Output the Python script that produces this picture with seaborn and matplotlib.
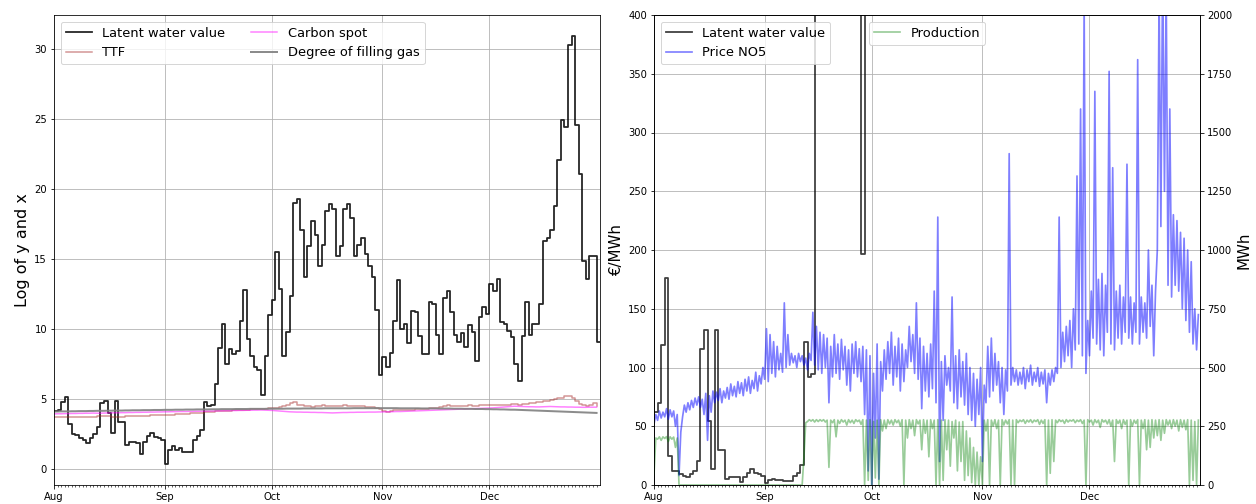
import numpy as np
import pandas as pd
import matplotlib
matplotlib.use("Agg")
import matplotlib.pyplot as plt
import matplotlib.dates as mdates
import seaborn as sns

START = "2021-08-01"
END = "2021-12-31 23:00"

# Latent water value, log scale, one value per day (Aug 1 - Dec 31)
latent_log = [
    4.13, 4.25, 4.78, 5.17, 3.2, 2.5, 2.45, 2.2, 2.07, 1.86,
    2.2, 2.5, 3.0, 4.75, 4.88, 4.0, 2.6, 4.88, 3.4, 3.4,
    1.7, 1.95, 1.95, 1.9, 1.07, 1.95, 2.36, 2.6, 2.3, 2.2,
    2.07,
    0.4, 1.4, 1.64, 1.36, 1.5, 1.24, 1.24, 1.24, 2.07, 2.36,
    2.83, 4.8, 4.52, 4.55, 6.05, 8.67, 10.4, 7.48, 8.57, 8.26,
    8.45, 10.6, 12.8, 9.3, 8.1, 7.3, 7.1, 5.28, 8.1, 11.0,
    12.1, 15.5, 12.9, 8.1, 9.8, 12.4, 19.0, 19.3, 17.1, 13.7,
    15.9, 17.7, 16.7, 14.5, 16.0, 18.4, 18.9, 18.6, 15.2, 15.9,
    18.6, 18.9, 17.9, 15.2, 16.0, 16.5, 15.4, 14.5, 13.7, 11.4,
    6.7,
    8.0, 7.3, 8.3, 10.6, 13.5, 10.0, 10.4, 9.0, 11.3, 11.2,
    9.5, 8.2, 8.2, 11.95, 11.8, 9.6, 8.2, 12.2, 12.7, 11.2,
    9.6, 9.1, 9.7, 8.7, 10.3, 9.8, 7.7, 10.9, 11.55, 11.1,
    13.2, 12.7, 13.6, 10.5, 10.35, 9.9, 9.45, 7.5, 6.3, 9.5,
    11.95, 9.6, 10.35, 10.4, 11.8, 16.3, 16.5, 17.1, 18.8, 22.1,
    24.9, 24.45, 30.3, 30.9, 24.6, 21.1, 14.9, 13.6, 15.2, 15.2,
    9.1,
]

# TTF gas price, log, daily
ttf_log = [
    3.70, 3.71, 3.72, 3.72, 3.73, 3.73, 3.74, 3.74, 3.75, 3.75,
    3.76, 3.76, 3.77, 3.78, 3.78, 3.77, 3.76, 3.75, 3.75, 3.76,
    3.77, 3.78, 3.79, 3.80, 3.81, 3.82, 3.83, 3.84, 3.85, 3.86,
    3.87, 3.88, 3.89, 3.90, 3.92, 3.94, 3.96, 3.97, 3.99, 4.01,
    4.03, 4.05, 4.07, 4.09, 4.12, 4.15, 4.18, 4.17, 4.16, 4.18,
    4.20, 4.22, 4.21, 4.23, 4.25, 4.27, 4.29, 4.31, 4.33, 4.32,
    4.34, 4.36, 4.40, 4.45, 4.50, 4.55, 4.70, 4.80, 4.62, 4.55,
    4.50, 4.48, 4.47, 4.50, 4.52, 4.55, 4.52, 4.50, 4.48, 4.50,
    4.53, 4.55, 4.52, 4.50, 4.49, 4.50, 4.48, 4.47, 4.46, 4.45,
    4.40, 4.28, 4.15, 4.12, 4.18, 4.20, 4.22, 4.25, 4.24, 4.22,
    4.25, 4.27, 4.30, 4.32, 4.33, 4.35, 4.36, 4.38, 4.42, 4.50,
    4.55, 4.52, 4.50, 4.48, 4.50, 4.52, 4.55, 4.54, 4.53, 4.55,
    4.56, 4.55, 4.56, 4.58, 4.57, 4.59, 4.60, 4.62, 4.63, 4.64,
    4.62, 4.65, 4.68, 4.72, 4.75, 4.78, 4.80, 4.85, 4.88, 4.92,
    4.98, 5.05, 5.12, 5.20, 5.22, 5.08, 4.90, 4.65, 4.55, 4.52,
    4.58, 4.75, 4.50,
]

# Carbon spot price, log, daily
carbon_log = [
    3.95, 3.96, 3.96, 3.97, 3.97, 3.98, 3.98, 3.99, 3.99, 4.00,
    4.00, 4.01, 4.00, 4.00, 4.01, 4.02, 4.02, 4.03, 4.03, 4.04,
    4.04, 4.05, 4.05, 4.06, 4.06, 4.07, 4.07, 4.08, 4.08, 4.09,
    4.09, 4.10, 4.10, 4.11, 4.11, 4.12, 4.12, 4.12, 4.13, 4.13,
    4.14, 4.14, 4.15, 4.15, 4.16, 4.16, 4.17, 4.17, 4.18, 4.18,
    4.19, 4.19, 4.20, 4.20, 4.21, 4.21, 4.22, 4.22, 4.23, 4.22,
    4.21, 4.20, 4.18, 4.16, 4.14, 4.12, 4.10, 4.09, 4.08, 4.08,
    4.07, 4.07, 4.06, 4.06, 4.05, 4.05, 4.04, 4.03, 4.02, 4.03,
    4.04, 4.05, 4.05, 4.06, 4.06, 4.07, 4.07, 4.07, 4.08, 4.08,
    4.08, 4.09, 4.09, 4.10, 4.10, 4.11, 4.12, 4.12, 4.13, 4.14,
    4.15, 4.16, 4.17, 4.18, 4.19, 4.20, 4.21, 4.22, 4.23, 4.24,
    4.25, 4.26, 4.27, 4.28, 4.29, 4.30, 4.31, 4.32, 4.33, 4.34,
    4.35, 4.36, 4.37, 4.38, 4.40, 4.42, 4.44, 4.46, 4.48, 4.50,
    4.49, 4.48, 4.47, 4.46, 4.46, 4.45, 4.45, 4.46, 4.47, 4.48,
    4.47, 4.46, 4.45, 4.45, 4.44, 4.44, 4.43, 4.43, 4.42, 4.42,
    4.43, 4.43, 4.43,
]

# Degree of filling of gas storage, log, daily
gas_fill_log = [
    4.12, 4.12, 4.13, 4.13, 4.13, 4.14, 4.14, 4.15, 4.15, 4.15,
    4.16, 4.16, 4.17, 4.17, 4.17, 4.18, 4.18, 4.19, 4.19, 4.19,
    4.20, 4.20, 4.21, 4.21, 4.21, 4.22, 4.22, 4.22, 4.23, 4.23,
    4.23, 4.24, 4.24, 4.24, 4.25, 4.25, 4.25, 4.26, 4.26, 4.26,
    4.27, 4.27, 4.27, 4.27, 4.28, 4.28, 4.28, 4.29, 4.29, 4.29,
    4.29, 4.30, 4.30, 4.30, 4.30, 4.31, 4.31, 4.31, 4.31, 4.31,
    4.32, 4.32, 4.32, 4.32, 4.32, 4.33, 4.33, 4.33, 4.33, 4.33,
    4.34, 4.34, 4.34, 4.34, 4.34, 4.34, 4.35, 4.35, 4.35, 4.35,
    4.35, 4.35, 4.35, 4.35, 4.36, 4.36, 4.36, 4.36, 4.36, 4.36,
    4.36, 4.36, 4.36, 4.36, 4.36, 4.36, 4.36, 4.35, 4.35, 4.35,
    4.35, 4.35, 4.35, 4.34, 4.34, 4.34, 4.34, 4.34, 4.33, 4.33,
    4.33, 4.33, 4.32, 4.32, 4.32, 4.31, 4.31, 4.31, 4.30, 4.30,
    4.30, 4.29, 4.29, 4.28, 4.28, 4.27, 4.27, 4.26, 4.25, 4.25,
    4.24, 4.23, 4.22, 4.21, 4.20, 4.19, 4.18, 4.17, 4.16, 4.15,
    4.14, 4.13, 4.12, 4.11, 4.10, 4.09, 4.08, 4.07, 4.06, 4.05,
    4.04, 4.03, 4.02,
]

# Spot price NO5 in EUR/MWh, two readings per day (00:00, 12:00)
price_no5 = [
    52, 60, 55, 63, 57, 62, 58, 65, 56, 64,
    58, 63, 50, 60, 8, 45, 58, 68, 62, 70,
    64, 72, 66, 74, 68, 75, 66, 73, 60, 78,
    38, 76, 62, 80, 70, 79, 72, 82, 70, 80,
    74, 83, 73, 86, 76, 84, 75, 88, 78, 87,
    76, 90, 80, 92, 78, 89, 82, 96, 80, 93,
    86, 100, 90, 133, 88, 128, 95, 122, 92, 118,
    98, 112, 96, 155, 100, 128, 102, 112, 104, 110,
    100, 112, 105, 110, 102, 108, 98, 112, 106, 147,
    102, 135, 98, 130, 95, 128, 100, 125, 70, 118,
    92, 128, 95, 120, 90, 124, 98, 118, 85, 115,
    80, 120, 95, 122, 92, 116, 88, 118, 60, 115,
    12, 110, 0, 95, 40, 120, 5, 105, 80, 115,
    90, 122, 95, 130, 85, 118, 92, 125, 80, 120,
    88, 115, 100, 135, 105, 128, 95, 155, 90, 125,
    65, 118, 80, 112, 75, 120, 82, 165, 70, 228,
    20, 105, 55, 110, 85, 100, 80, 160, 70, 110,
    65, 115, 75, 105, 68, 112, 60, 100, 55, 95,
    50, 90, 60, 100, 20, 85, 70, 118, 75, 125,
    80, 112, 85, 105, 70, 100, 60, 98, 80, 282,
    85, 100, 88, 98, 85, 96, 86, 100, 82, 98,
    88, 102, 85, 96, 88, 100, 84, 96, 86, 98,
    70, 95, 85, 98, 88, 100, 95, 228, 100, 130,
    105, 135, 110, 140, 100, 150, 115, 263, 120, 320,
    110, 410, 95, 140, 110, 165, 125, 335, 120, 175,
    115, 180, 110, 170, 130, 352, 120, 270, 115, 165,
    125, 170, 120, 160, 130, 273, 125, 160, 120, 155,
    130, 362, 120, 160, 130, 155, 125, 200, 135, 170,
    110, 165, 200, 420, 220, 450, 250, 420, 170, 320,
    160, 230, 170, 225, 165, 215, 150, 210, 140, 200,
    130, 190, 120, 150, 115, 145,
]

# Production in MWh, two readings per day (00:00, 12:00)
production = [
    45, 200, 195, 205, 190, 205, 198, 206, 185, 205,
    195, 204, 160, 200, 0, 0, 0, 0, 0, 0,
    0, 0, 0, 0, 0, 0, 0, 0, 0, 0,
    0, 0, 0, 0, 0, 0, 0, 0, 0, 0,
    0, 0, 0, 0, 0, 0, 0, 0, 0, 0,
    0, 0, 0, 0, 0, 0, 0, 0, 0, 0,
    0, 0, 0, 0, 0, 0, 0, 0, 0, 0,
    0, 0, 0, 0, 0, 0, 0, 0, 0, 0,
    0, 0, 0, 0, 120, 265, 270, 278, 272, 278,
    268, 278, 270, 278, 272, 278, 268, 276, 75, 276,
    265, 278, 205, 276, 262, 278, 268, 276, 255, 278,
    265, 276, 262, 278, 270, 276, 258, 278, 0, 276,
    20, 278, 0, 270, 30, 276, 0, 278, 230, 276,
    240, 278, 260, 276, 255, 278, 265, 276, 250, 278,
    0, 276, 200, 278, 240, 276, 210, 278, 260, 276,
    150, 278, 220, 276, 120, 278, 240, 276, 0, 278,
    0, 276, 20, 278, 150, 276, 80, 270, 200, 276,
    60, 268, 100, 270, 20, 230, 40, 200, 10, 160,
    0, 140, 0, 120, 0, 276, 230, 278, 0, 276,
    250, 278, 240, 276, 0, 278, 255, 276, 260, 278,
    0, 276, 0, 278, 265, 276, 270, 278, 262, 276,
    268, 278, 265, 276, 270, 278, 258, 276, 262, 278,
    0, 276, 50, 278, 100, 276, 265, 278, 270, 276,
    262, 278, 268, 276, 272, 278, 265, 276, 270, 278,
    262, 276, 0, 278, 268, 276, 255, 278, 265, 276,
    245, 278, 268, 276, 260, 278, 250, 276, 100, 278,
    262, 276, 240, 278, 258, 276, 0, 278, 250, 276,
    262, 278, 0, 276, 240, 278, 150, 276, 160, 278,
    200, 276, 210, 278, 190, 276, 220, 278, 255, 276,
    240, 278, 250, 276, 230, 278, 245, 276, 235, 278,
    0, 276, 20, 270, 0, 276,
]

days = pd.date_range(START, periods=len(latent_log), freq="D")
half_days = pd.date_range(START, periods=len(price_no5), freq="12h")
x_end = pd.Timestamp(END)

# Daily steps held until the last hour of the period
step_x = days.append(pd.DatetimeIndex([x_end]))
step_log = np.array(latent_log + [latent_log[-1]])
step_eur = np.exp(step_log)

W, H, DPI = 1256, 504, 72
fig, (ax1, ax3) = plt.subplots(1, 2, figsize=(W / DPI, H / DPI), dpi=DPI)
fig.subplots_adjust(left=54 / W, right=1200 / W, bottom=19 / H, top=489 / H,
                    wspace=0.099)

# Left panel: everything on a log scale
sns.lineplot(x=step_x, y=step_log, ax=ax1, color="black", alpha=0.85, lw=1.8,
             drawstyle="steps-post", label="Latent water value")
sns.lineplot(x=days, y=ttf_log, ax=ax1, color="brown", alpha=0.5, lw=1.5,
             drawstyle="steps-post", label="TTF")
sns.lineplot(x=days, y=carbon_log, ax=ax1, color="magenta", alpha=0.5, lw=1.5,
             label="Carbon spot")
sns.lineplot(x=days, y=gas_fill_log, ax=ax1, color="gray", alpha=0.9, lw=2,
             label="Degree of filling gas")
ax1.legend(loc="upper left", ncol=2, fontsize=13)
ax1.set_ylabel("Log of y and x", fontsize=16)

# Right panel: prices in EUR/MWh and production on a twin axis
sns.lineplot(x=step_x, y=step_eur, ax=ax3, color="black", alpha=0.75, lw=1.8,
             drawstyle="steps-post", label="Latent water value")
sns.lineplot(x=half_days, y=price_no5, ax=ax3, color="blue", alpha=0.5, lw=1.7,
             label="Price NO5")
ax3.set_ylim(0, 400)
ax3.set_ylabel("€/MWh", fontsize=15)
ax3.legend(loc="upper left", fontsize=13)

ax4 = ax3.twinx()
sns.lineplot(x=half_days, y=production, ax=ax4, color="green", alpha=0.4, lw=1.7,
             label="Production")
ax4.set_ylim(0, 2000)
ax4.set_ylabel("MWh", fontsize=15)
ax4.legend(loc="upper center", fontsize=13)

for ax in (ax1, ax3):
    ax.set_xlim(days[0], x_end)
    ax.xaxis.set_major_locator(mdates.MonthLocator())
    ax.xaxis.set_major_formatter(mdates.DateFormatter("%b"))
    ax.xaxis.set_minor_locator(mdates.DayLocator())
    ax.set_xlabel("")
    ax.grid(True)
    ax.tick_params(labelsize=10)
ax4.tick_params(labelsize=10)

fig.savefig("out.png", dpi=DPI)
